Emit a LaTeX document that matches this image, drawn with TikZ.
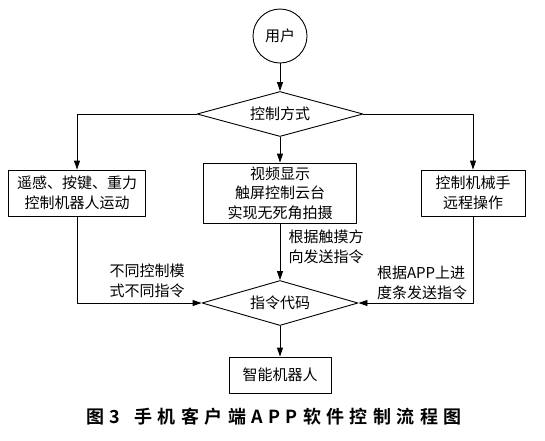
\documentclass[tikz,border=0pt]{standalone}
\usepackage{fontspec}
\setmainfont{Noto Sans CJK SC}
\newfontfamily\capfont[LetterSpace=30]{Noto Sans CJK SC Bold}
\usetikzlibrary{shapes.geometric,arrows.meta}

\tikzset{
  flowbox/.style={draw,rectangle,align=center,inner sep=0pt},
  choice/.style={draw,diamond,aspect=3.7,inner sep=0pt,minimum height=45pt,minimum width=160pt},
  note/.style={align=left,inner sep=0pt}
}

\begin{document}
\begin{tikzpicture}[x=1pt,y=-1pt,line width=0.9pt,line join=round,>={Triangle[length=9pt,width=6pt]}]
  \fontsize{15pt}{19.5pt}\selectfont
  \useasboundingbox (0,0) rectangle (545,440);

  \node[draw,circle,minimum size=54pt,inner sep=0pt] (user) at (280,36) {用户};
  \node[choice,minimum width=166pt] (mode) at (280,114) {控制方式};

  \node[flowbox,minimum width=137pt,minimum height=46pt] (rocker) at (77,193) {遥感、按键、重力\\控制机器人运动};
  \node[flowbox,minimum width=153pt,minimum height=60pt] (video) at (280,193) {视频显示\\触屏控制云台\\实现无死角拍摄};
  \node[flowbox,minimum width=104pt,minimum height=46pt] (arm) at (473,193) {控制机械手\\远程操作};

  \node[choice,minimum width=156pt] (code) at (280,303) {指令代码};
  \node[flowbox,minimum width=102pt,minimum height=36pt] (robot) at (280,375) {智能机器人};

  % connectors
  \draw[->] (user) -- (mode);
  \draw[->] (mode.west) -| (rocker.north);
  \draw[->] (mode.south) -- (video.north);
  \draw[->] (mode.east) -| (arm.north);
  \draw[->] (rocker.south) |- (code.west);
  \draw[->] (video.south) -- (code.north);
  \draw[->] (arm.south) |- (code.east);
  \draw[->] (code.south) -- (robot.north);

  % notes on the connectors
  \node[note] (noteL) at (147,281) {不同控制模\\式不同指令};
  \node[note] (noteM) at (326,247) {根据触摸方\\向发送指令};
  \node[note] (noteR) at (422,283) {根据APP上进\\度条发送指令};

  \node (caption) at (274,417) {\fontsize{18pt}{20pt}\capfont 图3\hspace{14pt}手机客户端APP软件控制流程图};
\end{tikzpicture}
\end{document}
